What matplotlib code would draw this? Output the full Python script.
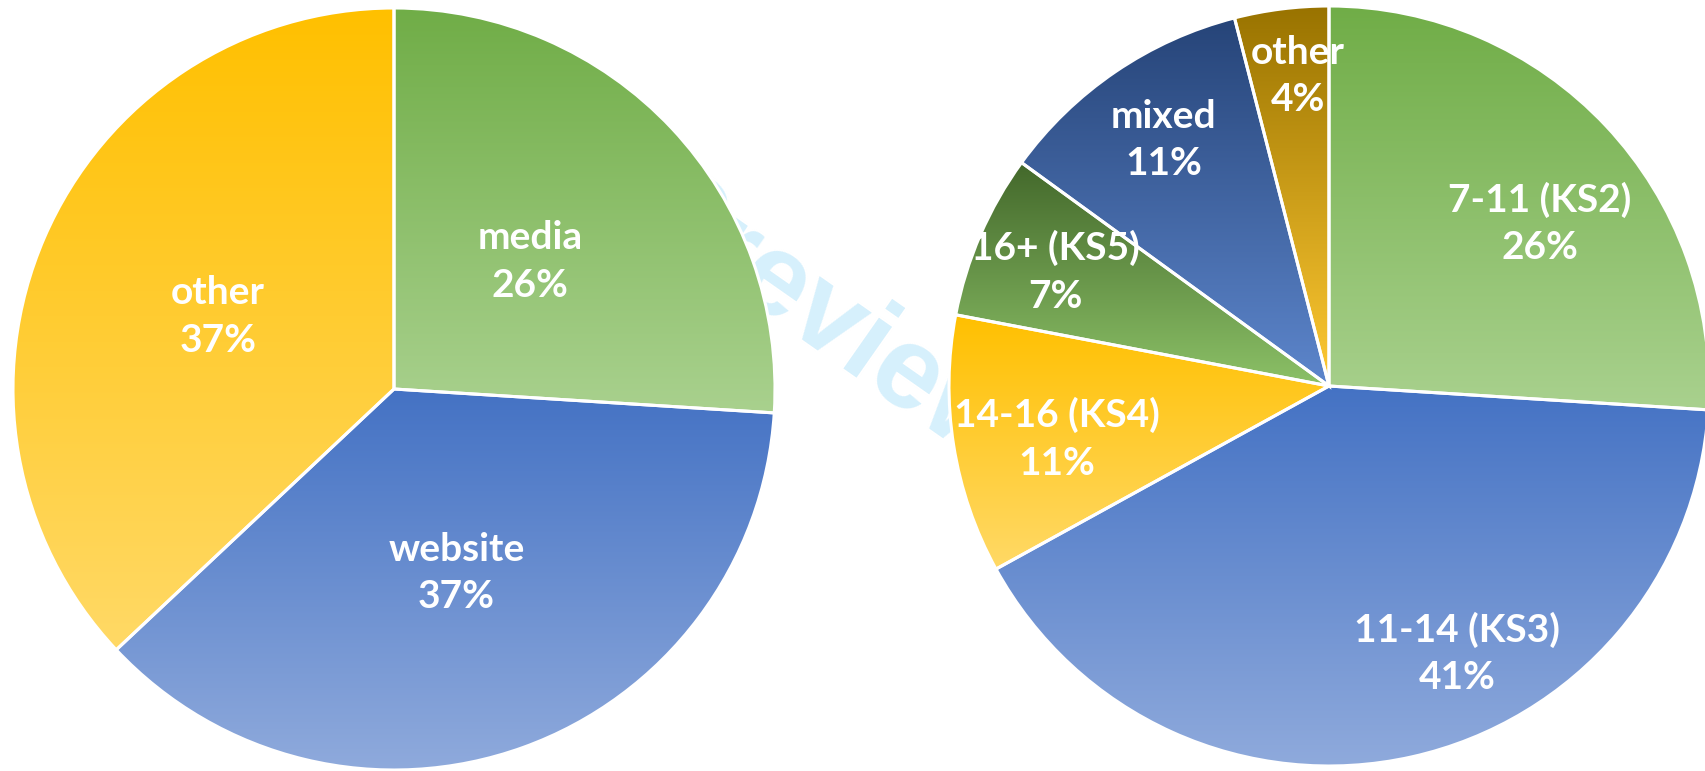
import numpy as np
import matplotlib
matplotlib.use("Agg")
import matplotlib.pyplot as plt
from matplotlib.colors import to_rgb

# data
left_labels = ['media', 'website', 'other']
left_values = [26, 37, 37]
right_labels = ['7-11 (KS2)', '11-14 (KS3)', '14-16 (KS4)', '16+ (KS5)', 'mixed', 'other']
right_values = [26, 41, 11, 7, 11, 4]

# gradient colours (top, bottom) per wedge
left_colors = [('#70AD47', '#A9D18E'), ('#4472C4', '#8FAADC'), ('#FFC000', '#FFD966')]
right_colors = [('#70AD47', '#A9D18E'), ('#4472C4', '#8FAADC'), ('#FFC000', '#FFD966'),
                ('#43682B', '#8CC167'), ('#264478', '#5D86CC'), ('#997300', '#FFC933')]
# label placement (fraction of radius, angle tweak in deg) - Excel "best fit"
left_dist = [0.49, 0.51, 0.50]
left_shift = [0, -1, 1]
right_dist = [0.70, 0.78, 0.73, 0.78, 0.78, 0.82]
right_shift = [-5.5, 13, 2, 0.7, -0.3, -1.5]

W, H = 1705, 771
fig = plt.figure(figsize=(W / 100, H / 100), dpi=100)
ax = fig.add_axes([0, 0, 1, 1])

# faint watermark behind the pies
ax.text(826, 446, 'Preview', fontsize=84, fontweight='bold', family='Liberation Sans',
        color='#D6F0FC', rotation=-35, rotation_mode='anchor',
        ha='center', va='center', zorder=0.1)


def gradient_pie(values, labels, colors, center, radius, dist, shift):
    wedges, _ = ax.pie(values, startangle=90, counterclock=False, radius=radius,
                       center=center, colors=['none'] * len(values),
                       wedgeprops=dict(edgecolor='white', linewidth=2.2), frame=True)
    total = sum(values)
    for i, w in enumerate(wedges):
        w.set_zorder(3)
        ext = w.get_path().get_extents()
        top, bot = np.array(to_rgb(colors[i][0])), np.array(to_rgb(colors[i][1]))
        t = np.linspace(0, 1, 256)[:, None, None]
        grad = top * (1 - t) + bot * t
        im = ax.imshow(grad, extent=(ext.x0, ext.x1, ext.y0, ext.y1), origin='upper',
                       aspect='auto', interpolation='bilinear', zorder=2)
        im.set_clip_path(w)
        mid = np.deg2rad((w.theta1 + w.theta2) / 2 + shift[i])
        r = dist[i] * radius
        pct = f'{values[i] / total * 100:.0f}%'
        ax.text(center[0] + r * np.cos(mid), center[1] + r * np.sin(mid),
                f'{labels[i]}\n{pct}', ha='center', va='center', color='white',
                fontsize=28, fontweight='bold', family='Lato', linespacing=1.44, zorder=4)


gradient_pie(left_values, left_labels, left_colors, (394, 382), 381, left_dist, left_shift)
gradient_pie(right_values, right_labels, right_colors, (1329, 385), 380, right_dist, right_shift)

ax.set_xlim(0, W)
ax.set_ylim(0, H)
ax.set_aspect('equal')
ax.axis('off')

fig.savefig('out.png', dpi=100)
